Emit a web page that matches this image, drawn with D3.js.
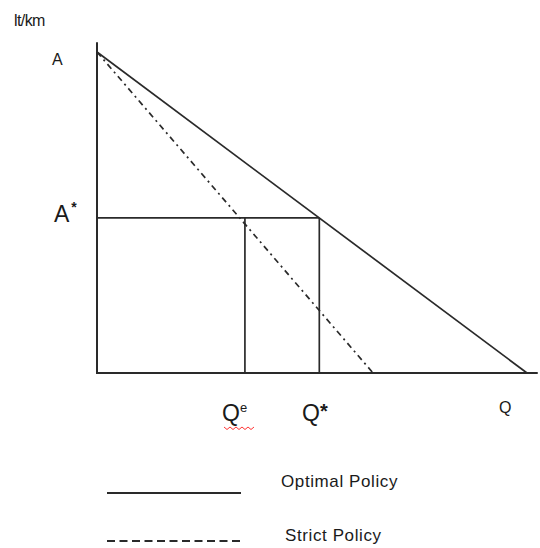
<!DOCTYPE html>
<html><head><meta charset="utf-8">
<script src="https://cdn.jsdelivr.net/npm/d3@7"></script>
<style>body{margin:0;background:#fff}svg{display:block}text{font-family:"Liberation Sans",Arial,sans-serif;fill:#1a1a1a}</style>
</head><body>
<script>
const series = ["Optimal Policy", "Strict Policy"];
const interceptA = 100;           // A on vertical axis
const interceptQ = [100, 64.2];   // horizontal intercepts of each line
const aStar = 48.3;               // A*
const qE = 34.4;                  // Q^e
const qStar = 51.7;               // Q*
const axisMax = [102.5, 103];     // extent of x and y axes

const W = 540, H = 548;
const svg = d3.select("body").append("svg").attr("width", W).attr("height", H);
const x = d3.scaleLinear().domain([0, 100]).range([97, 527]);
const y = d3.scaleLinear().domain([0, 100]).range([373, 52]);
const stroke = "#2a2a2a";

// axes
svg.append("line").attr("x1", x(0)).attr("x2", x(0)).attr("y1", y(0)).attr("y2", y(axisMax[1]))
  .attr("stroke", stroke).attr("stroke-width", 2);
svg.append("line").attr("x1", x(0) - 1).attr("x2", x(axisMax[0])).attr("y1", y(0)).attr("y2", y(0))
  .attr("stroke", stroke).attr("stroke-width", 2.2);

// policy lines
const dashes = [null, "6,4,2,4"];
series.forEach((s, i) => {
  svg.append("line").attr("x1", x(0)).attr("y1", y(interceptA))
    .attr("x2", x(interceptQ[i])).attr("y2", y(0))
    .attr("stroke", stroke).attr("stroke-width", 1.7)
    .attr("stroke-dasharray", dashes[i]);
});

// A* box
svg.append("line").attr("x1", x(0)).attr("x2", x(qStar)).attr("y1", y(aStar)).attr("y2", y(aStar))
  .attr("stroke", stroke).attr("stroke-width", 1.7);
[qE, qStar].forEach(q => {
  svg.append("line").attr("x1", x(q)).attr("x2", x(q)).attr("y1", y(aStar)).attr("y2", y(0))
    .attr("stroke", stroke).attr("stroke-width", 1.7);
});

// labels
svg.append("text").attr("x", 14).attr("y", 26).attr("font-size", 16).attr("letter-spacing", -0.6).text("lt/km");
svg.append("text").attr("x", 52).attr("y", 65).attr("font-size", 16).text("A");
const aS = svg.append("text").attr("x", 54).attr("y", y(aStar) + 4).attr("font-size", 23);
aS.append("tspan").text("A");
aS.append("tspan").attr("dy", -10).attr("dx", 2).attr("font-size", 14).attr("font-weight", "bold").text("*");
const qe = svg.append("text").attr("x", 222).attr("y", 421).attr("font-size", 23);
qe.append("tspan").text("Q");
qe.append("tspan").attr("dy", -9).attr("font-size", 13).text("e");
// spellcheck squiggle under Qe
const sq = d3.range(0, 11).map(i => [224 + i * 3, 427 + (i % 2 ? 2.5 : 0)]);
svg.append("path").attr("d", d3.line()(sq)).attr("fill", "none").attr("stroke", "#f33").attr("stroke-width", 1);
const qs = svg.append("text").attr("x", 302).attr("y", 421).attr("font-size", 23);
qs.append("tspan").text("Q");
qs.append("tspan").attr("dy", -3).attr("font-size", 20).attr("font-weight", "bold").text("*");
svg.append("text").attr("x", 499).attr("y", 413).attr("font-size", 16).text("Q");

// legend
const legY = [493, 541];
const legDash = [null, "8,4.5"];
series.forEach((s, i) => {
  svg.append("line").attr("x1", 107).attr("x2", 241).attr("y1", legY[i]).attr("y2", legY[i])
    .attr("stroke", stroke).attr("stroke-width", 1.8).attr("stroke-dasharray", legDash[i]);
  svg.append("text").attr("x", i ? 285 : 281).attr("y", legY[i] - (i ? 0 : 6)).attr("font-size", 17)
    .attr("letter-spacing", 0.6).text(s);
});
</script>
</body></html>
